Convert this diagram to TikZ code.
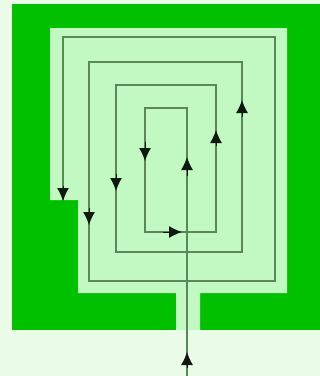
\documentclass[tikz,border=0pt]{standalone}
\usepackage{xcolor}
\usepackage{tikz}
\usetikzlibrary{arrows.meta}
\definecolor{fondo}{HTML}{EAFCE8}
\definecolor{verde}{HTML}{00C000}
\definecolor{verdeClaro}{HTML}{C2F8C2}
\definecolor{linea}{HTML}{5A865A}
\definecolor{tinta}{HTML}{101810}

\begin{document}
\begin{tikzpicture}[x=1pt,y=-1pt,
    hilo/.style={draw=linea,line width=1.6pt,line join=miter},
    punta/.style={-{Latex[length=13pt,width=12pt]},tinta,line width=1pt}]
  \fill[fondo] (0,0) rectangle (320,376);
  \useasboundingbox (0,0) rectangle (320,376);
  % zonas
  \fill[verde] (12,4) rectangle (320,330);
  \fill[verdeClaro] (50,28) -- (287,28) -- (287,293) -- (200,293) -- (200,330)
    -- (176,330) -- (176,293) -- (78,293) -- (78,200) -- (50,200) -- cycle;
  % espiral
  \coordinate (entrada) at (187,376);
  \coordinate (fin) at (63,200);
  \draw[hilo] (entrada) -- (187,108) -- (145,108) -- (145,232) -- (216,232)
    -- (216,85) -- (116,85) -- (116,252) -- (242,252) -- (242,62) -- (89,62)
    -- (89,281) -- (275,281) -- (275,37) -- (63,37) -- (fin);
  % flechas
  \foreach \xa/\ya/\xb/\yb in {187/368/187/352, 187/176/187/157, 145/142/145/161,
                     163/232/182/232, 216/146/216/130, 116/174/116/191,
                     242/117/242/100, 89/208/89/225, 63/186/63/201}
    \draw[punta] (\xa,\ya) -- (\xb,\yb);
\end{tikzpicture}
\end{document}
